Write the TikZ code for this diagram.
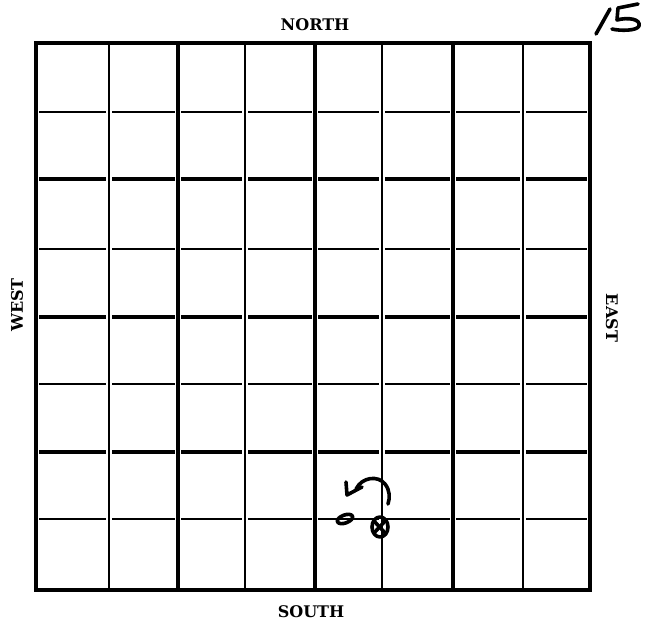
\documentclass[tikz,border=0pt]{standalone}
\usepackage{fontspec}
\newfontfamily\labelfont{DejaVu Serif}
\usetikzlibrary{calc}
\tikzset{
    frameline/.style={line width=4.5pt,draw=black},
    thickline/.style={line width=3.4pt,draw=black},
    thinline/.style={line width=2.2pt,draw=black},
    inkline/.style={line width=3.6pt,draw=black,line cap=round,line join=round},
    sidelabel/.style={font=\labelfont\bfseries\fontsize{16}{18}\selectfont,inner sep=0pt}
}

\begin{document}
\begin{tikzpicture}[x=1pt,y=-1pt]
  \useasboundingbox (0,0) rectangle (649,626);

  %---------------- labels ----------------
            \node[sidelabel] (north) at (315,25) {NORTH};
            \node[sidelabel] (south) at (311,612) {SOUTH};
            \node[sidelabel,rotate=90] (west) at (17,305) {WEST};
            \node[sidelabel,rotate=-90] (east) at (612,318) {EAST};

  %---------------- grid ----------------
  % vertical lines: thin / thick alternate
            \foreach \x in {109,245,382,523}{
                \draw[thinline] (\x,44) -- (\x,589);
            }
            \foreach \x in {178,315,453}{
                \draw[thickline] (\x,44) -- (\x,589);
            }

  % horizontal lines, broken at each vertical line
            \foreach \y/\w in {112/thinline,179/thickline,249/thinline,317/thickline,384/thinline,452/thickline,519/thinline}{
                \foreach \a/\b in {36/109,109/178,178/245,245/315,315/382,382/453,453/523,523/590}{
                    \draw[\w] (\a+3,\y) -- (\b-3,\y);
                }
            }

  % outer frame
            \draw[frameline] (36,43) rectangle (590,590);

  %---------------- handwriting ----------------
  % page number
            \draw[inkline] (596,34) -- (610,9);
            \draw[inkline] (638,4) -- (618,8) -- (617,20)
                .. controls (628,17) and (641,19) .. (639,26)
                .. controls (637,31) and (620,31) .. (612,29);

  % marks in the grid
            \draw[inkline] (346,482) -- (347,495) -- (362,487);
            \draw[inkline] (356,489) .. controls (362,477) and (378,475) .. (385,484)
                .. controls (390,490) and (390,498) .. (388,504);
            \draw[inkline,rotate around={20:(345,519)}] (345,519) ellipse (8 and 4);
            \draw[inkline] (380,527) ellipse (8 and 10);
            \draw[inkline] (374,521) -- (386,534);
            \draw[inkline] (386,520) -- (374,533);

        \end{tikzpicture}
\end{document}
